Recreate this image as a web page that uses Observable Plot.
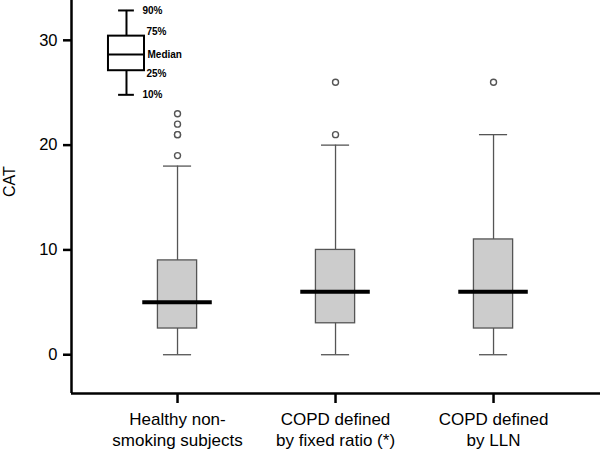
<!DOCTYPE html>
<html><head><meta charset="utf-8">
<script src="https://cdn.jsdelivr.net/npm/d3@7"></script>
<script src="https://cdn.jsdelivr.net/npm/@observablehq/plot@0.6"></script>
<style>body{margin:0;background:#fff;}</style>
</head><body><div id="chart"></div>
<script>
const categories = ["Healthy non-\nsmoking subjects", "COPD defined\nby fixed ratio (*)", "COPD defined\nby LLN"];
const whiskerLow = [0, 0, 0];
const q1 = [2.5, 3, 2.5];
const medians = [5, 6, 6];
const q3 = [9, 10, 11];
const whiskerHigh = [18, 20, 21];
const outliers = [[19, 21, 21, 22, 23], [21, 26], [26]];
const yTicks = [0, 10, 20, 30];
const keyLabels = ["10%", "25%", "Median", "75%", "90%"];
const keyValues = [24.8, 27.1, 28.65, 30.4, 32.85];
const keyPosition = -0.323;

const xDomain = [-0.671, 2.677];
const yDomain = [-3.7, 33.8];

const boxes = categories.map((c, i) => ({i, low: whiskerLow[i], q1: q1[i], med: medians[i], q3: q3[i], high: whiskerHigh[i]}));
const outRows = outliers.flatMap((vs, i) => vs.map(v => ({i, v})));
const key = {i: keyPosition, low: keyValues[0], q1: keyValues[1], med: keyValues[2], q3: keyValues[3], high: keyValues[4]};
const keyText = keyLabels.map((t, k) => ({t, v: keyValues[k], k}));
const keyDx = [16, 20, 21, 20, 16];
const keyDy = [0, 3.5, 0, -4.5, 0];

const gray = "#555";
const chart = Plot.plot({
  width: 600, height: 454,
  marginLeft: 71, marginRight: 0, marginTop: 0, marginBottom: 61,
  style: {fontFamily: "Liberation Sans, Arial, sans-serif", fontSize: "16px", background: "#fff", color: "#000"},
  x: {domain: xDomain, axis: null},
  y: {domain: yDomain, axis: null},
  marks: [
    Plot.ruleX(boxes, {x: "i", y1: "low", y2: "high", stroke: gray, strokeWidth: 1.3}),
    Plot.ruleY(boxes, {y: "low", x1: d => d.i - 0.089, x2: d => d.i + 0.089, stroke: gray, strokeWidth: 1.3}),
    Plot.ruleY(boxes, {y: "high", x1: d => d.i - 0.089, x2: d => d.i + 0.089, stroke: gray, strokeWidth: 1.3}),
    Plot.rect(boxes, {x1: d => d.i - 0.124, x2: d => d.i + 0.124, y1: "q1", y2: "q3", fill: "#cccccc", stroke: gray, strokeWidth: 1.3}),
    Plot.ruleY(boxes, {y: "med", x1: d => d.i - 0.22, x2: d => d.i + 0.22, stroke: "#000", strokeWidth: 4}),
    Plot.dot(outRows, {x: "i", y: "v", r: 3, stroke: gray, strokeWidth: 1.4, fill: "#fff"}),
    Plot.ruleX([key], {x: "i", y1: "low", y2: "high", stroke: "#000", strokeWidth: 2}),
    Plot.ruleY([key], {y: "low", x1: d => d.i - 0.05, x2: d => d.i + 0.05, stroke: "#000", strokeWidth: 2}),
    Plot.ruleY([key], {y: "high", x1: d => d.i - 0.05, x2: d => d.i + 0.05, stroke: "#000", strokeWidth: 2}),
    Plot.rect([key], {x1: d => d.i - 0.114, x2: d => d.i + 0.114, y1: "q1", y2: "q3", fill: "#fff", stroke: "#000", strokeWidth: 2}),
    Plot.ruleY([key], {y: "med", x1: d => d.i - 0.114, x2: d => d.i + 0.114, stroke: "#000", strokeWidth: 2}),
    ...keyText.map(d => Plot.text([d], {x: () => keyPosition, y: "v", text: "t", dx: keyDx[d.k], dy: keyDy[d.k], textAnchor: "start", fontSize: 10, fontWeight: "bold", fill: "#000"})),
    Plot.axisY({ticks: yTicks, tickSize: 8, tickPadding: 6, strokeWidth: 2.5, fontSize: 16.5, label: null, stroke: "#000", fill: "#000"}),
    Plot.axisX({ticks: [0, 1, 2], tickFormat: i => categories[i], tickSize: 10, tickPadding: 6, strokeWidth: 2.5, lineHeight: 1.27, fontSize: 17, label: null, stroke: "#000", fill: "#000"}),
    Plot.ruleX([xDomain[0]], {y1: yDomain[0], y2: yDomain[1], stroke: "#000", strokeWidth: 2.5}),
    Plot.ruleY([yDomain[0]], {x1: xDomain[0], x2: xDomain[1], stroke: "#000", strokeWidth: 2.5}),
    Plot.text(["CAT"], {text: d => d, frameAnchor: "left", dx: -62, rotate: -90, fontSize: 16, fill: "#000"})
  ]
});
document.getElementById("chart").appendChild(chart);
</script>
</body></html>
